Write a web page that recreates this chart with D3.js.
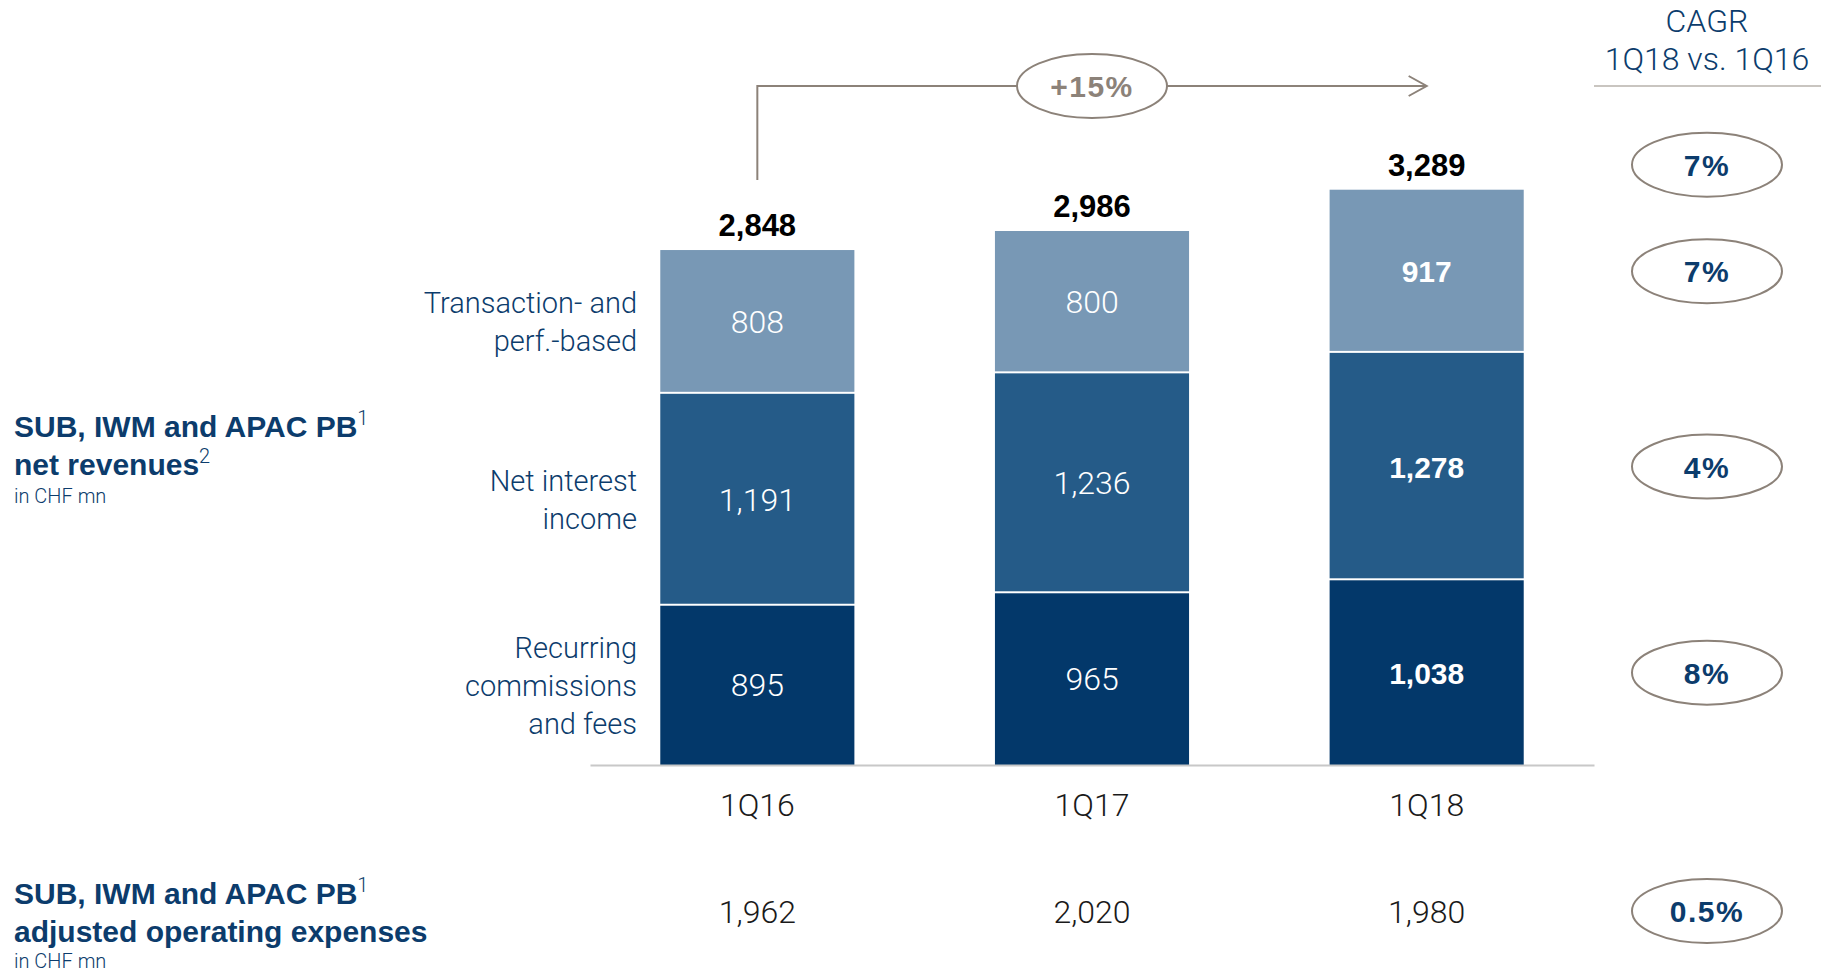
<!DOCTYPE html>
<html>
<head>
<meta charset="utf-8">
<script src="https://cdn.jsdelivr.net/npm/d3@7"></script>
<style>
  body { margin: 0; background: #fff; }
  text { font-family: "Liberation Sans", Arial, sans-serif; }
  .light { font-family: Roboto, "Liberation Sans", sans-serif; font-weight: 300; }
  .bold { font-weight: 700; }
</style>
</head>
<body>
<svg id="chart" width="1833" height="975"></svg>
<script>
// ----------------------------
// Data
// ----------------------------
const periods = ["1Q16", "1Q17", "1Q18"];
const recurring = [895, 965, 1038];
const netInterest = [1191, 1236, 1278];
const transaction = [808, 800, 917];
const totals = [2848, 2986, 3289];
const expenses = [1962, 2020, 1980];

const seriesKeys = ["recurring", "netInterest", "transaction"];
const seriesLabels = [
    ["Recurring", "commissions", "and fees"],
    ["Net interest", "income"],
    ["Transaction- and", "perf.-based"]
];
// CAGR 1Q18 vs. 1Q16: total, then per series
const cagrTotal = "7%";
const cagrSeries = ["8%", "4%", "7%"];   // same order as seriesKeys
const cagrExpenses = "0.5%";
const growthLabel = "+15%";

// ----------------------------
// Style
// ----------------------------
const navy = "#0c3c6c";
const colors = ["#03386a", "#255b88", "#7898b5"];
const ovalStroke = "#8c8279";
const fmt = d3.format(",");

const svg = d3.select("#chart");

// build the table d3.stack needs
const table = periods.map((p, i) => ({
    period: p,
    recurring: recurring[i],
    netInterest: netInterest[i],
    transaction: transaction[i]
}));
const stacked = d3.stack().keys(seriesKeys)(table);

// ----------------------------
// Scales
// ----------------------------
const baseY = 765;
const x = d3.scaleBand()
    .domain(periods)
    .range([590, 1594])
    .paddingInner(0.42)
    .paddingOuter(0.21);

const y = d3.scaleLinear()
    .domain([0, 3400])
    .range([baseY, 160]);

const cx = p => x(p) + x.bandwidth() / 2;
const stackTop = i => stacked[stacked.length - 1][i][1];

// ----------------------------
// Bars
// ----------------------------
const layers = svg.append("g")
    .selectAll("g")
    .data(stacked)
    .join("g")
    .attr("fill", (d, i) => colors[i]);

layers.selectAll("rect")
    .data(d => d)
    .join("rect")
    .attr("x", d => x(d.data.period))
    .attr("width", x.bandwidth())
    .attr("y", d => y(d[1]))
    .attr("height", d => y(d[0]) - y(d[1]) - (d[0] > 0 ? 2 : 0));

// value labels inside segments (last period in bold)
layers.selectAll("text")
    .data(d => d)
    .join("text")
    .attr("class", d => d.data.period === periods[periods.length - 1] ? "bold" : "light")
    .attr("x", d => cx(d.data.period))
    .attr("y", d => (y(d[0]) + y(d[1])) / 2 + 11)
    .attr("text-anchor", "middle")
    .attr("fill", "#fff")
    .attr("font-size", d => d.data.period === periods[periods.length - 1] ? 30 : 32)
    .text(d => fmt(d[1] - d[0]));

// totals above the bars
svg.append("g")
    .selectAll("text")
    .data(periods)
    .join("text")
    .attr("class", "bold")
    .attr("x", d => cx(d))
    .attr("y", (d, i) => y(stackTop(i)) - 14)
    .attr("text-anchor", "middle")
    .attr("font-size", 31)
    .attr("fill", "#000")
    .text((d, i) => fmt(totals[i]));

// ----------------------------
// Axis
// ----------------------------
const xAxis = svg.append("g")
    .attr("transform", `translate(0,${baseY})`)
    .call(d3.axisBottom(x).tickSize(0).tickSizeOuter(0).tickPadding(28));
xAxis.select(".domain").attr("stroke", "#c8c8c8").attr("stroke-width", 2);
xAxis.selectAll("text")
    .attr("class", "light")
    .attr("font-size", 32)
    .attr("fill", "#1a1a1a");
xAxis.attr("font-family", null).attr("font-size", null);

// ----------------------------
// Series labels left of first bar
// ----------------------------
svg.append("g")
    .selectAll("text")
    .data(stacked)
    .join("text")
    .attr("class", "light")
    .attr("text-anchor", "end")
    .attr("font-size", 29)
    .attr("fill", navy)
    .each(function (layer, i) {
        const seg = layer[0];
        const mid = (y(seg[0]) + y(seg[1])) / 2;
        const lines = seriesLabels[i];
        d3.select(this).selectAll("tspan")
            .data(lines)
            .join("tspan")
            .attr("x", 637)
            .attr("y", (l, j) => mid + (j - (lines.length - 1) / 2) * 38 + 10.5)
            .text(l => l);
    });

// ----------------------------
// Left titles
// ----------------------------
function title(lines, sub, baseline, subGap) {
    const g = svg.append("g");
    lines.forEach((l, j) => {
        const t = g.append("text")
            .attr("class", "bold")
            .attr("x", 14)
            .attr("y", baseline + j * 38)
            .attr("font-size", 30)
            .attr("fill", navy)
            .text(l.text);
        if (l.sup) {
            t.append("tspan")
                .attr("class", "light")
                .attr("font-size", 20)
                .attr("dy", -12)
                .text(l.sup);
        }
    });
    g.append("text")
        .attr("class", "light")
        .attr("x", 14)
        .attr("y", baseline + (lines.length - 1) * 38 + subGap)
        .attr("font-size", 20)
        .attr("fill", navy)
        .text(sub);
}
title([{ text: "SUB, IWM and APAC PB", sup: "1" }, { text: "net revenues", sup: "2" }], "in CHF mn", 437, 28);
title([{ text: "SUB, IWM and APAC PB", sup: "1" }, { text: "adjusted operating expenses" }], "in CHF mn", 904, 26);

// ----------------------------
// Expenses row
// ----------------------------
const expY = 911;
svg.append("g")
    .selectAll("text")
    .data(periods)
    .join("text")
    .attr("class", "light")
    .attr("x", d => cx(d))
    .attr("y", expY + 11.5)
    .attr("text-anchor", "middle")
    .attr("font-size", 32)
    .attr("fill", "#1a1a1a")
    .text((d, i) => fmt(expenses[i]));

// ----------------------------
// Growth arrow 1Q16 -> 1Q18
// ----------------------------
const arrowY = 86;
const x1 = cx(periods[0]), x2 = cx(periods[1]), x3 = cx(periods[2]);
svg.append("path")
    .attr("d", `M${x1},${y(stackTop(0)) - 70}V${arrowY}H${x3}M${x3 - 18},${arrowY - 10}L${x3},${arrowY}L${x3 - 18},${arrowY + 10}`)
    .attr("fill", "none")
    .attr("stroke", ovalStroke)
    .attr("stroke-width", 2);

function oval(cxv, cyv, label, color) {
    svg.append("ellipse")
        .attr("cx", cxv).attr("cy", cyv)
        .attr("rx", 75).attr("ry", 32)
        .attr("fill", "#fff")
        .attr("stroke", ovalStroke)
        .attr("stroke-width", 2);
    svg.append("text")
        .attr("class", "bold")
        .attr("x", cxv).attr("y", cyv + 11)
        .attr("text-anchor", "middle")
        .attr("font-size", 30)
        .attr("letter-spacing", 1.5)
        .attr("fill", color)
        .text(label);
}
oval(x2, arrowY, growthLabel, ovalStroke);

// ----------------------------
// CAGR column
// ----------------------------
const cagrX = 1707;
svg.append("text")
    .attr("class", "light")
    .attr("x", cagrX).attr("y", 32)
    .attr("text-anchor", "middle")
    .attr("font-size", 32)
    .attr("fill", navy)
    .text("CAGR");
svg.append("text")
    .attr("class", "light")
    .attr("x", cagrX).attr("y", 70)
    .attr("text-anchor", "middle")
    .attr("font-size", 32)
    .attr("fill", navy)
    .text("1Q18 vs. 1Q16");
svg.append("line")
    .attr("x1", 1594).attr("x2", 1821)
    .attr("y1", arrowY).attr("y2", arrowY)
    .attr("stroke", "#c9c5c0")
    .attr("stroke-width", 2);

const lastIdx = periods.length - 1;
oval(cagrX, y(stackTop(lastIdx)) - 14 - 11, cagrTotal, navy);
stacked.forEach((layer, i) => {
    const seg = layer[lastIdx];
    oval(cagrX, (y(seg[0]) + y(seg[1])) / 2, cagrSeries[i], navy);
});
oval(cagrX, expY, cagrExpenses, navy);
</script>
</body>
</html>
